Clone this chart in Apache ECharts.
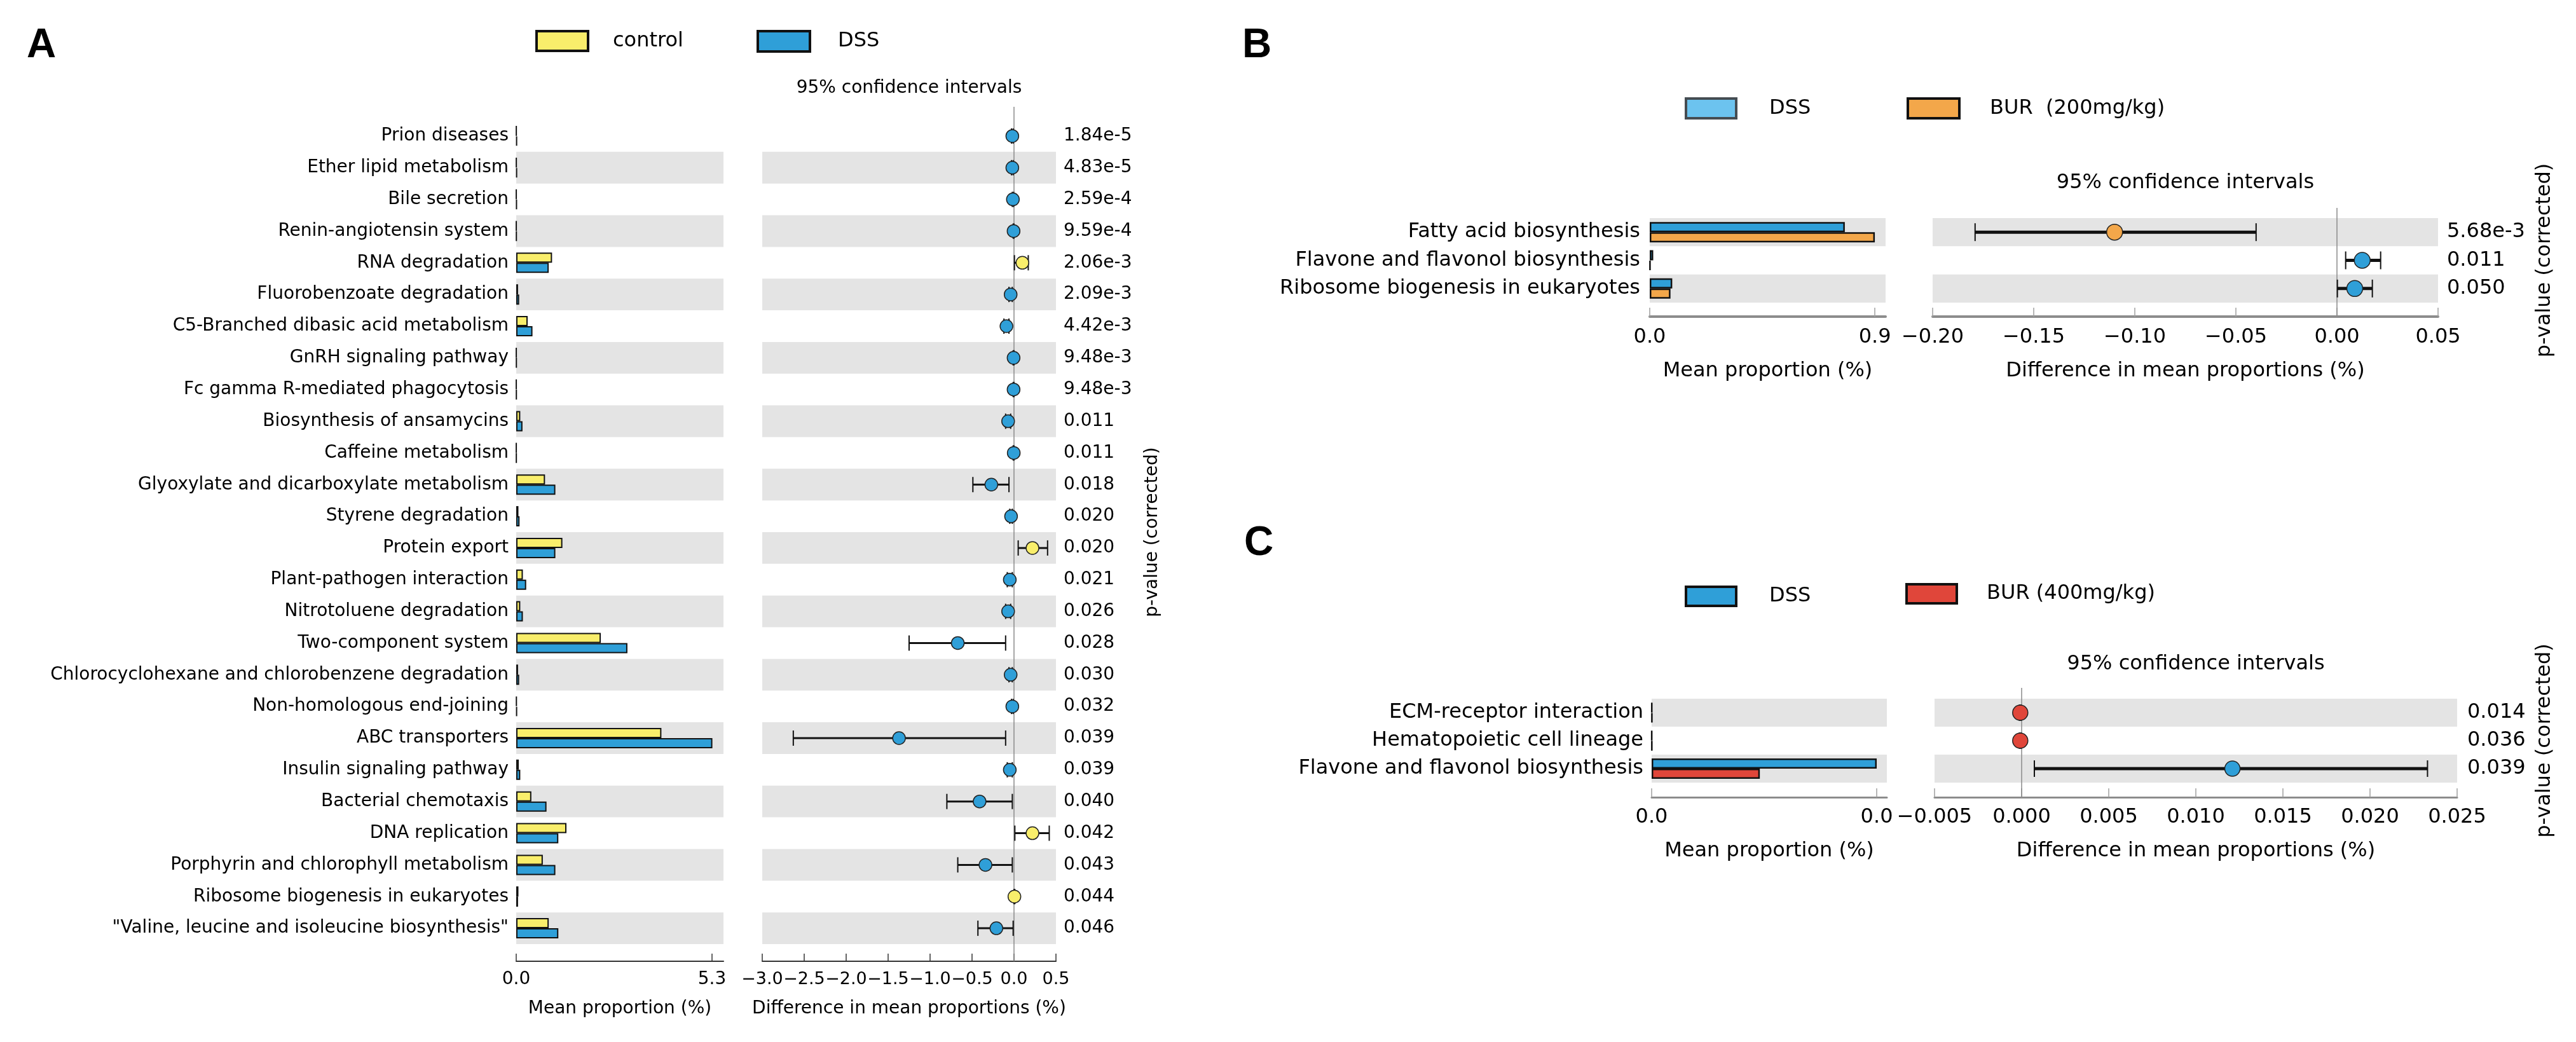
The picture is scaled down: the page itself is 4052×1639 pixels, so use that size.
<!DOCTYPE html>
<html><head><meta charset="utf-8">
<script src="https://cdn.jsdelivr.net/npm/echarts@6/dist/echarts.min.js"></script>
<style>html,body{margin:0;padding:0;background:#fff}#c{width:4052px;height:1639px}</style>
</head><body><div id="c"></div>
<script>
// ================= DATA =================
// Panel A : control vs DSS
const aCategories = ['Prion diseases','Ether lipid metabolism','Bile secretion','Renin-angiotensin system','RNA degradation','Fluorobenzoate degradation','C5-Branched dibasic acid metabolism','GnRH signaling pathway','Fc gamma R-mediated phagocytosis','Biosynthesis of ansamycins','Caffeine metabolism','Glyoxylate and dicarboxylate metabolism','Styrene degradation','Protein export','Plant-pathogen interaction','Nitrotoluene degradation','Two-component system','Chlorocyclohexane and chlorobenzene degradation','Non-homologous end-joining','ABC transporters','Insulin signaling pathway','Bacterial chemotaxis','DNA replication','Porphyrin and chlorophyll metabolism','Ribosome biogenesis in eukaryotes','"Valine, leucine and isoleucine biosynthesis"'];
const aPValues = ['1.84e-5','4.83e-5','2.59e-4','9.59e-4','2.06e-3','2.09e-3','4.42e-3','9.48e-3','9.48e-3','0.011','0.011','0.018','0.020','0.020','0.021','0.026','0.028','0.030','0.032','0.039','0.039','0.040','0.042','0.043','0.044','0.046'];
const aControlMean = [0.005,0.005,0.003,0.003,0.97,0.05,0.31,0.003,0.003,0.11,0.003,0.78,0.06,1.25,0.18,0.11,2.29,0.05,0.01,3.93,0.07,0.41,1.36,0.72,0.06,0.88];
const aDssMean     = [0.02,0.02,0.015,0.008,0.88,0.08,0.44,0.008,0.008,0.17,0.006,1.06,0.09,1.06,0.27,0.18,3.01,0.08,0.02,5.31,0.11,0.82,1.14,1.06,0.05,1.14];
const aDiff   = [-0.02,-0.02,-0.013,-0.005,0.10,-0.04,-0.09,-0.005,-0.005,-0.07,-0.003,-0.27,-0.035,0.22,-0.05,-0.07,-0.67,-0.04,-0.02,-1.37,-0.05,-0.41,0.22,-0.34,0.005,-0.21];
const aCiLow  = [-0.03,-0.03,-0.02,-0.01,0.005,-0.06,-0.12,-0.01,-0.01,-0.10,-0.01,-0.49,-0.05,0.05,-0.08,-0.10,-1.25,-0.06,-0.03,-2.63,-0.08,-0.80,0.01,-0.67,0.0,-0.43];
const aCiHigh = [-0.01,-0.01,-0.005,0.0,0.17,-0.02,-0.06,0.0,0.0,-0.04,0.0,-0.06,-0.02,0.40,-0.02,-0.04,-0.10,-0.02,-0.01,-0.10,-0.02,-0.02,0.42,-0.02,0.01,-0.01];
const aBarTicks = [0, 5.3];
const aGroups = ['control','DSS'];

// Panel B : DSS vs BUR (200mg/kg)
const bCategories = ['Fatty acid biosynthesis','Flavone and flavonol biosynthesis','Ribosome biogenesis in eukaryotes'];
const bPValues = ['5.68e-3','0.011','0.050'];
const bDssMean = [0.78, 0.014, 0.09];
const bBurMean = [0.90, 0.002, 0.083];
const bDiff   = [-0.110, 0.0125, 0.0088];
const bCiLow  = [-0.179, 0.0043, 0.0002];
const bCiHigh = [-0.040, 0.0216, 0.0175];
const bBarTicks = [0, 0.9];
const bGroups = ['DSS','BUR  (200mg/kg)'];

// Panel C : DSS vs BUR (400mg/kg)
const cCategories = ['ECM-receptor interaction','Hematopoietic cell lineage','Flavone and flavonol biosynthesis'];
const cPValues = ['0.014','0.036','0.039'];
const cDssMean = [0.00003, 0.00002, 0.0233];
const cBurMean = [0.00005, 0.00004, 0.0112];
const cDiff   = [-0.00008, -0.00008, 0.0121];
const cCiLow  = [-0.00012, -0.00012, 0.00073];
const cCiHigh = [-0.00004, -0.00004, 0.0233];
const cBarTicks = [0, 0.0233];
const cGroups = ['DSS','BUR (400mg/kg)'];

// ================= STYLE =================
const YELLOW = '#F9EE6B', BLUE = '#2F9FD8', ORANGE = '#F3A74A', RED = '#E0463A';
const LIGHTBLUE = '#6CC3EF', BAND = '#E4E4E4';
const FONT = 'DejaVu Sans';

const grid = [], xAxis = [], yAxis = [], series = [];

function minus(s){ return s.replace(/-/g, '\u2212'); }

function addPanel(p) {
  const gBar = grid.length, gCi = grid.length + 1;
  grid.push({left: p.barLeft, top: p.top, width: p.barWidthPx, height: p.height});
  grid.push({left: p.ciLeft, top: p.top, width: p.ciWidthPx, height: p.height});

  const axisLine = {show: true, onZero: false, lineStyle: {color: p.axisColor, width: p.axisWidth}};
  const axisTick = {show: true, inside: true, length: p.tickLen, lineStyle: {color: p.tickColor, width: 1.5}};
  const labelStyle = {color: '#000', fontSize: p.fs, fontFamily: FONT, margin: p.xLabelMargin,
    showMinLabel: true, showMaxLabel: true, hideOverlap: false};
  const nameStyle = {color: '#000', fontSize: p.fs, fontFamily: FONT};

  // x axes
  const xBar = xAxis.length;
  xAxis.push({type: 'value', gridIndex: gBar, min: 0, max: p.barMax, offset: p.axisOffset,
    axisLine, axisTick: Object.assign({customValues: p.barTicks}, axisTick),
    axisLabel: Object.assign({}, labelStyle, {customValues: p.barTicks, formatter: v => v.toFixed(1)}),
    splitLine: {show: false},
    name: 'Mean proportion (%)', nameLocation: 'middle', nameGap: p.xNameGap, nameTextStyle: nameStyle});
  const xCi = xAxis.length;
  xAxis.push({type: 'value', gridIndex: gCi, min: p.ciMin, max: p.ciMax, interval: p.ciInterval, offset: p.axisOffset,
    axisLine, axisTick,
    axisLabel: Object.assign({}, labelStyle, {fontSize: p.ciFs,
      formatter: v => minus((Math.abs(v) < 1e-12 ? 0 : v).toFixed(p.ciDec))}),
    splitLine: {show: false},
    name: 'Difference in mean proportions (%)', nameLocation: 'middle', nameGap: p.xNameGap, nameTextStyle: nameStyle});
  xAxis.push({type: 'value', gridIndex: gCi, position: 'top', min: 0, max: 1,
    axisLine: {show: false}, axisTick: {show: false}, axisLabel: {show: false}, splitLine: {show: false},
    name: '95% confidence intervals', nameLocation: 'middle', nameGap: p.ciTitleGap, nameTextStyle: nameStyle});

  // y axes
  const splitArea = {show: true, interval: 0, areaStyle: {color: p.bandColors}};
  const yBar = yAxis.length;
  yAxis.push({type: 'category', gridIndex: gBar, data: p.cats, inverse: true, position: 'left',
    axisLine: {show: false}, axisTick: {show: false, interval: 0},
    axisLabel: {interval: 0, color: '#000', fontSize: p.fs, fontFamily: FONT, margin: p.yLabelMargin},
    splitLine: {show: false}, splitArea});
  const yCi = yAxis.length;
  yAxis.push({type: 'category', gridIndex: gCi, data: p.cats, inverse: true, position: 'left',
    axisLine: {show: false}, axisTick: {show: false, interval: 0}, axisLabel: {show: false},
    splitLine: {show: false}, splitArea});
  yAxis.push({type: 'category', gridIndex: gCi, data: p.pvals, inverse: true, position: 'right',
    axisLine: {show: false}, axisTick: {show: false},
    axisLabel: {interval: 0, color: '#000', fontSize: p.fs, fontFamily: FONT, margin: p.pMargin},
    splitLine: {show: false}, splitArea: {show: false},
    name: 'p-value (corrected)', nameLocation: 'middle', nameRotate: 90, nameGap: p.pNameGap,
    nameTextStyle: {color: '#000', fontSize: p.fs, fontFamily: FONT}});
  const yHidden = yAxis.length;
  yAxis.push({type: 'value', gridIndex: gCi, position: 'left', show: false, min: 0, max: p.height, inverse: true,
    splitLine: {show: false}});

  // bars
  [[p.groups[0], p.mean1, p.color1], [p.groups[1], p.mean2, p.color2]].forEach(([name, vals, col]) => {
    series.push({type: 'bar', name, xAxisIndex: xBar, yAxisIndex: yBar, data: vals,
      barWidth: p.barThick, barGap: '0%', silent: true,
      itemStyle: {color: col, borderColor: '#111', borderWidth: p.barBorder}});
  });

  // zero reference line
  series.push({type: 'line', xAxisIndex: xCi, yAxisIndex: yHidden, clip: false, silent: true,
    symbol: 'none', data: [[0, -p.zeroExtTop], [0, p.height + p.axisOffset]],
    lineStyle: {color: '#8a8a8a', width: 1.5}, z: 1});

  // error bars
  const cap = p.capHeight / 2, ew = p.errWidth;
  series.push({type: 'custom', xAxisIndex: xCi, yAxisIndex: yCi, silent: true, z: 3,
    data: p.cats.map((c, i) => [p.lo[i], p.hi[i], i]),
    encode: {x: [0, 1], y: 2},
    renderItem: (params, api) => {
      const y = api.value(2);
      const a = api.coord([api.value(0), y]);
      const b = api.coord([api.value(1), y]);
      const st = {stroke: '#111', lineWidth: ew};
      const cs = {stroke: '#111', lineWidth: 2};
      return {type: 'group', children: [
        {type: 'line', shape: {x1: a[0], y1: a[1], x2: b[0], y2: b[1]}, style: st},
        {type: 'line', shape: {x1: a[0], y1: a[1] - cap, x2: a[0], y2: a[1] + cap}, style: cs},
        {type: 'line', shape: {x1: b[0], y1: b[1] - cap, x2: b[0], y2: b[1] + cap}, style: cs}
      ]};
    }});

  // mean difference dots
  series.push({type: 'scatter', xAxisIndex: xCi, yAxisIndex: yCi, silent: true, z: 5,
    data: p.diff.map((d, i) => [d, i]), symbolSize: p.dotSize,
    itemStyle: {color: prm => prm.value[0] >= 0 ? p.color1 : p.color2, borderColor: '#222', borderWidth: 1.5, opacity: 1}});
}

addPanel({cats: aCategories, pvals: aPValues, mean1: aControlMean, mean2: aDssMean, diff: aDiff, lo: aCiLow, hi: aCiHigh,
  groups: aGroups, color1: YELLOW, color2: BLUE, barTicks: aBarTicks,
  barLeft: 812, barWidthPx: 326, ciLeft: 1199, ciWidthPx: 462, top: 189, height: 1296,
  barMax: 5.61, ciMin: -3, ciMax: 0.5, ciInterval: 0.5, ciDec: 1,
  axisOffset: 27, fs: 28, ciFs: 27, xLabelMargin: 15, xNameGap: 61, ciTitleGap: 36, yLabelMargin: 12, pMargin: 12, pNameGap: 138,
  axisColor: '#333', axisWidth: 2, tickColor: '#333', tickLen: 12,
  bandColors: ['rgba(255,255,255,0)', BAND], barThick: 16, barBorder: 2,
  zeroExtTop: 21, capHeight: 24, errWidth: 3, dotSize: 20});

addPanel({cats: bCategories, pvals: bPValues, mean1: bDssMean, mean2: bBurMean, diff: bDiff, lo: bCiLow, hi: bCiHigh,
  groups: bGroups, color1: BLUE, color2: ORANGE, barTicks: bBarTicks,
  barLeft: 2595, barWidthPx: 371, ciLeft: 3040, ciWidthPx: 795, top: 343, height: 133,
  barMax: 0.943, ciMin: -0.2, ciMax: 0.05, ciInterval: 0.05, ciDec: 2,
  axisOffset: 22, fs: 32, ciFs: 32, xLabelMargin: 17, xNameGap: 70, ciTitleGap: 39, yLabelMargin: 15, pMargin: 14, pNameGap: 152,
  axisColor: '#8c8c8c', axisWidth: 4, tickColor: '#a0a0a0', tickLen: 14,
  bandColors: [BAND, 'rgba(255,255,255,0)'], barThick: 16, barBorder: 2.5,
  zeroExtTop: 16, capHeight: 28, errWidth: 5, dotSize: 25});

addPanel({cats: cCategories, pvals: cPValues, mean1: cDssMean, mean2: cBurMean, diff: cDiff, lo: cCiLow, hi: cCiHigh,
  groups: cGroups, color1: BLUE, color2: RED, barTicks: cBarTicks,
  barLeft: 2598, barWidthPx: 370, ciLeft: 3043, ciWidthPx: 822, top: 1099, height: 132,
  barMax: 0.02435, ciMin: -0.005, ciMax: 0.025, ciInterval: 0.005, ciDec: 3,
  axisOffset: 23, fs: 32, ciFs: 32, xLabelMargin: 16, xNameGap: 69, ciTitleGap: 38, yLabelMargin: 13, pMargin: 16, pNameGap: 122,
  axisColor: '#8c8c8c', axisWidth: 3, tickColor: '#a0a0a0', tickLen: 14,
  bandColors: [BAND, 'rgba(255,255,255,0)'], barThick: 16, barBorder: 2.5,
  zeroExtTop: 17, capHeight: 26, errWidth: 5, dotSize: 24});

// legends (one per item so each box sits where the reference has it)
function legendItem(name, left, top, w, h, fill, border, gap) {
  return {left, top, padding: 0, selectedMode: false, itemWidth: w, itemHeight: h, icon: 'rect',
    data: [{name, itemStyle: {color: fill, borderColor: border, borderWidth: 4}}],
    textStyle: {fontSize: 32, fontFamily: FONT, color: '#000', padding: [0, 0, 0, gap - 5]}};
}
const legend = [
  legendItem(aGroups[0], 842, 47, 81, 31, YELLOW, '#111', 39),
  legendItem(aGroups[1], 1190, 47, 82, 32, BLUE, '#111', 44),
  legendItem(bGroups[0], 2650, 153, 79, 31, LIGHTBLUE, '#454c52', 52),
  legendItem(bGroups[1], 2999, 153, 81, 31, ORANGE, '#111', 48),
  legendItem(cGroups[0], 2650, 921, 79, 30, BLUE, '#111', 52),
  legendItem(cGroups[1], 2997, 917, 79, 30, RED, '#111', 47)
];

const letterStyle = {fontSize: 64, fontWeight: 'bold', fontFamily: 'Liberation Sans', color: '#000'};
const title = [
  {text: 'A', left: 42, top: 40, padding: 0, textStyle: letterStyle},
  {text: 'B', left: 1954, top: 40, padding: 0, textStyle: letterStyle},
  {text: 'C', left: 1957, top: 823, padding: 0, textStyle: letterStyle}
];

const chart = echarts.init(document.getElementById('c'));
chart.setOption({
  backgroundColor: '#fff', animation: false,
  textStyle: {fontFamily: FONT},
  title, legend, grid, xAxis, yAxis, series
});
</script></body></html>
